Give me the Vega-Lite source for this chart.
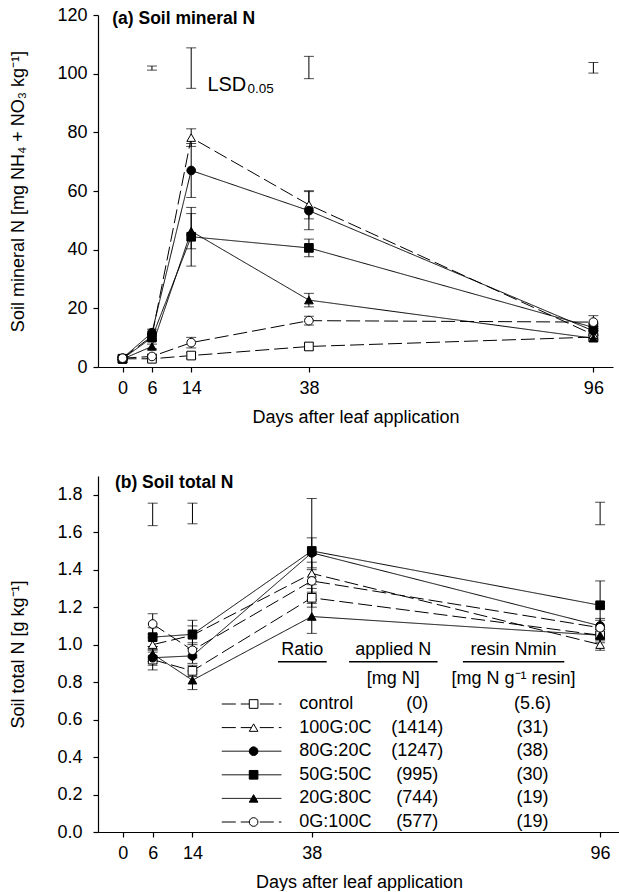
{
  "$schema": "https://vega.github.io/schema/vega-lite/v6.json",
  "padding": {"left": 9, "top": 6, "right": 0, "bottom": 0},
  "spacing": 47,
  "config": {
    "font": "Liberation Sans",
    "view": {"stroke": null},
    "axis": {
      "domainColor": "black", "tickColor": "black", "labelColor": "black", "titleColor": "black",
      "labelFont": "Liberation Sans", "titleFont": "Liberation Sans",
      "labelFontSize": 18, "titleFontSize": 18, "titleFontWeight": "normal",
      "tickSize": 5, "grid": false, "domainWidth": 1.2, "tickWidth": 1.2, "labelOverlap": false
    }
  },
  "datasets": {
    "main": [
      {"panel": "a", "treatment": "control", "day": 0, "value": 2.8, "se": 0.4},
      {"panel": "a", "treatment": "control", "day": 6, "value": 2.8, "se": 0.5},
      {"panel": "a", "treatment": "control", "day": 14, "value": 3.9, "se": 1.0},
      {"panel": "a", "treatment": "control", "day": 38, "value": 7.0, "se": 1.2},
      {"panel": "a", "treatment": "control", "day": 96, "value": 10.2, "se": 1.0},
      {"panel": "a", "treatment": "100G:0C", "day": 0, "value": 3.0, "se": 0.4},
      {"panel": "a", "treatment": "100G:0C", "day": 6, "value": 10.5, "se": 1.0},
      {"panel": "a", "treatment": "100G:0C", "day": 14, "value": 78.2, "se": 3.0},
      {"panel": "a", "treatment": "100G:0C", "day": 38, "value": 55.3, "se": 4.8},
      {"panel": "a", "treatment": "100G:0C", "day": 96, "value": 11.0, "se": 1.5},
      {"panel": "a", "treatment": "80G:20C", "day": 0, "value": 3.0, "se": 0.4},
      {"panel": "a", "treatment": "80G:20C", "day": 6, "value": 11.7, "se": 1.2},
      {"panel": "a", "treatment": "80G:20C", "day": 14, "value": 67.0, "se": 9.2},
      {"panel": "a", "treatment": "80G:20C", "day": 38, "value": 53.3, "se": 6.5},
      {"panel": "a", "treatment": "80G:20C", "day": 96, "value": 12.3, "se": 1.5},
      {"panel": "a", "treatment": "50G:50C", "day": 0, "value": 2.8, "se": 0.4},
      {"panel": "a", "treatment": "50G:50C", "day": 6, "value": 10.0, "se": 1.0},
      {"panel": "a", "treatment": "50G:50C", "day": 14, "value": 44.4, "se": 10.0},
      {"panel": "a", "treatment": "50G:50C", "day": 38, "value": 40.6, "se": 3.0},
      {"panel": "a", "treatment": "50G:50C", "day": 96, "value": 13.5, "se": 1.5},
      {"panel": "a", "treatment": "20G:80C", "day": 0, "value": 2.7, "se": 0.4},
      {"panel": "a", "treatment": "20G:80C", "day": 6, "value": 7.0, "se": 0.8},
      {"panel": "a", "treatment": "20G:80C", "day": 14, "value": 46.3, "se": 6.0},
      {"panel": "a", "treatment": "20G:80C", "day": 38, "value": 22.8, "se": 2.3},
      {"panel": "a", "treatment": "20G:80C", "day": 96, "value": 9.8, "se": 1.0},
      {"panel": "a", "treatment": "0G:100C", "day": 0, "value": 3.0, "se": 0.4},
      {"panel": "a", "treatment": "0G:100C", "day": 6, "value": 3.6, "se": 0.8},
      {"panel": "a", "treatment": "0G:100C", "day": 14, "value": 8.3, "se": 1.8},
      {"panel": "a", "treatment": "0G:100C", "day": 38, "value": 15.8, "se": 1.5},
      {"panel": "a", "treatment": "0G:100C", "day": 96, "value": 15.3, "se": 2.2},
      {"panel": "b", "treatment": "control", "day": 6, "value": 0.92, "se": 0.055},
      {"panel": "b", "treatment": "control", "day": 14, "value": 0.86, "se": 0.03},
      {"panel": "b", "treatment": "control", "day": 38, "value": 1.25, "se": 0.05},
      {"panel": "b", "treatment": "control", "day": 96, "value": 1.05, "se": 0.03},
      {"panel": "b", "treatment": "100G:0C", "day": 6, "value": 1.00, "se": 0.04},
      {"panel": "b", "treatment": "100G:0C", "day": 14, "value": 1.05, "se": 0.05},
      {"panel": "b", "treatment": "100G:0C", "day": 38, "value": 1.38, "se": 0.06},
      {"panel": "b", "treatment": "100G:0C", "day": 96, "value": 1.00, "se": 0.03},
      {"panel": "b", "treatment": "80G:20C", "day": 6, "value": 0.93, "se": 0.04},
      {"panel": "b", "treatment": "80G:20C", "day": 14, "value": 0.94, "se": 0.04},
      {"panel": "b", "treatment": "80G:20C", "day": 38, "value": 1.49, "se": 0.08},
      {"panel": "b", "treatment": "80G:20C", "day": 96, "value": 1.10, "se": 0.04},
      {"panel": "b", "treatment": "50G:50C", "day": 6, "value": 1.04, "se": 0.05},
      {"panel": "b", "treatment": "50G:50C", "day": 14, "value": 1.055, "se": 0.075},
      {"panel": "b", "treatment": "50G:50C", "day": 38, "value": 1.50, "se": 0.28},
      {"panel": "b", "treatment": "50G:50C", "day": 96, "value": 1.21, "se": 0.13},
      {"panel": "b", "treatment": "20G:80C", "day": 6, "value": 0.95, "se": 0.04},
      {"panel": "b", "treatment": "20G:80C", "day": 14, "value": 0.81, "se": 0.05},
      {"panel": "b", "treatment": "20G:80C", "day": 38, "value": 1.15, "se": 0.09},
      {"panel": "b", "treatment": "20G:80C", "day": 96, "value": 1.05, "se": 0.04},
      {"panel": "b", "treatment": "0G:100C", "day": 6, "value": 1.11, "se": 0.055},
      {"panel": "b", "treatment": "0G:100C", "day": 14, "value": 0.97, "se": 0.04},
      {"panel": "b", "treatment": "0G:100C", "day": 38, "value": 1.34, "se": 0.06},
      {"panel": "b", "treatment": "0G:100C", "day": 96, "value": 1.09, "se": 0.04}
    ],
    "lsd": [
      {"panel": "a", "day": 6, "value": 101.9, "se": 0.7},
      {"panel": "a", "day": 14, "value": 101.9, "se": 6.9},
      {"panel": "a", "day": 38, "value": 102.1, "se": 3.8},
      {"panel": "a", "day": 96, "value": 102.0, "se": 1.8},
      {"panel": "b", "day": 6, "value": 1.695, "se": 0.06},
      {"panel": "b", "day": 14, "value": 1.70, "se": 0.055},
      {"panel": "b", "day": 96, "value": 1.70, "se": 0.06}
    ],
    "legend": [
      {"treatment": "control", "applied": "(0)", "resin": "(5.6)"},
      {"treatment": "100G:0C", "applied": "(1414)", "resin": "(31)"},
      {"treatment": "80G:20C", "applied": "(1247)", "resin": "(38)"},
      {"treatment": "50G:50C", "applied": "(995)", "resin": "(30)"},
      {"treatment": "20G:80C", "applied": "(744)", "resin": "(19)"},
      {"treatment": "0G:100C", "applied": "(577)", "resin": "(19)"}
    ]
  },
  "vconcat": [
    {
      "width": 515,
      "height": 352,
      "layer": [
        {
          "data": {"name": "main"},
          "transform": [{"filter": "datum.panel === 'a'"}],
          "mark": {"type": "line", "color": "black", "strokeWidth": 1},
          "encoding": {
            "x": {"field": "day", "type": "quantitative", "scale": {"domain": [-5, 100], "nice": false, "zero": false},
                  "axis": {"values": [0, 6, 14, 38, 96], "title": "Days after leaf application", "labelPadding": 7, "titlePadding": 11}},
            "y": {"field": "value", "type": "quantitative", "scale": {"domain": [0, 120], "nice": false}, "title": "Soil mineral N [mg NH₄ + NO₃ kg⁻¹]",
                  "axis": {"values": [0, 20, 40, 60, 80, 100, 120], "title": "Soil mineral N [mg NH₄ + NO₃ kg⁻¹]", "labelPadding": 6, "titlePadding": 29}},
            "strokeDash": {"field": "treatment", "type": "nominal", "legend": null,
                  "scale": {"domain": ["control", "100G:0C", "80G:20C", "50G:50C", "20G:80C", "0G:100C"],
                            "range": [[14, 5], [14, 5], [1, 0], [1, 0], [1, 0], [14, 5]]}}
          }
        },
        {
          "data": {"name": "main"},
          "transform": [{"filter": "datum.panel === 'a'"}],
          "mark": {"type": "errorbar", "ticks": true, "size": 10, "thickness": 1, "color": "black"},
          "encoding": {
            "x": {"field": "day", "type": "quantitative", "title": "Days after leaf application"},
            "y": {"field": "value", "type": "quantitative", "title": "Soil mineral N [mg NH₄ + NO₃ kg⁻¹]"},
            "yError": {"field": "se"}
          }
        },
        {
          "data": {"name": "main"},
          "transform": [{"filter": "datum.panel === 'a'"}],
          "mark": {"type": "point", "filled": true, "opacity": 1, "stroke": "black", "strokeWidth": 1, "size": 75},
          "encoding": {
            "x": {"field": "day", "type": "quantitative", "title": "Days after leaf application"},
            "y": {"field": "value", "type": "quantitative", "title": "Soil mineral N [mg NH₄ + NO₃ kg⁻¹]"},
            "shape": {"field": "treatment", "type": "nominal", "legend": null,
                  "scale": {"domain": ["control", "100G:0C", "80G:20C", "50G:50C", "20G:80C", "0G:100C"],
                            "range": ["square", "triangle-up", "circle", "square", "triangle-up", "circle"]}},
            "fill": {"field": "treatment", "type": "nominal", "legend": null,
                  "scale": {"domain": ["control", "100G:0C", "80G:20C", "50G:50C", "20G:80C", "0G:100C"],
                            "range": ["white", "white", "black", "black", "black", "white"]}}
          }
        },
        {
          "data": {"name": "lsd"},
          "transform": [{"filter": "datum.panel === 'a'"}],
          "mark": {"type": "errorbar", "ticks": true, "size": 10, "thickness": 1, "color": "black"},
          "encoding": {
            "x": {"field": "day", "type": "quantitative", "title": "Days after leaf application"},
            "y": {"field": "value", "type": "quantitative", "title": "Soil mineral N [mg NH₄ + NO₃ kg⁻¹]"},
            "yError": {"field": "se"}
          }
        },
        {
          "data": {"values": [{"label": "(a) Soil mineral N"}]},
          "mark": {"type": "text", "align": "left", "baseline": "alphabetic", "fontSize": 17.5, "fontWeight": "bold", "color": "black"},
          "encoding": {"x": {"datum": -2.1}, "y": {"datum": 116.9}, "text": {"field": "label"}}
        },
        {
          "data": {"values": [{"label": "LSD"}]},
          "mark": {"type": "text", "align": "left", "baseline": "alphabetic", "fontSize": 20, "color": "black"},
          "encoding": {"x": {"datum": 17.3}, "y": {"datum": 94.1}, "text": {"field": "label"}}
        },
        {
          "data": {"values": [{"label": "0.05"}]},
          "mark": {"type": "text", "align": "left", "baseline": "alphabetic", "fontSize": 13.5, "dx": 40, "dy": 2.5, "color": "black"},
          "encoding": {"x": {"datum": 17.3}, "y": {"datum": 94.1}, "text": {"field": "label"}}
        }
      ]
    },
    {
      "width": 522,
      "height": 356,
      "resolve": {"scale": {"y": "independent"}},
      "layer": [
        {
          "layer": [
            {
              "data": {"name": "main"},
              "transform": [{"filter": "datum.panel === 'b'"}],
              "mark": {"type": "line", "color": "black", "strokeWidth": 1},
              "encoding": {
                "x": {"field": "day", "type": "quantitative", "scale": {"domain": [-5, 100], "nice": false, "zero": false},
                      "axis": {"values": [0, 6, 14, 38, 96], "title": "Days after leaf application", "labelPadding": 7, "titlePadding": 11}},
                "y": {"field": "value", "type": "quantitative", "scale": {"domain": [0, 1.9], "nice": false}, "title": "Soil total N [g kg⁻¹]",
                      "axis": {"values": [0, 0.2, 0.4, 0.6, 0.8, 1.0, 1.2, 1.4, 1.6, 1.8], "tickCount": 10, "format": ".1f", "labelOverlap": false, "title": "Soil total N [g kg⁻¹]", "labelPadding": 11, "titlePadding": 29}},
                "strokeDash": {"field": "treatment", "type": "nominal", "legend": null,
                      "scale": {"domain": ["control", "100G:0C", "80G:20C", "50G:50C", "20G:80C", "0G:100C"],
                                "range": [[14, 5], [14, 5], [1, 0], [1, 0], [1, 0], [14, 5]]}}
              }
            },
            {
              "data": {"name": "main"},
              "transform": [{"filter": "datum.panel === 'b'"}],
              "mark": {"type": "errorbar", "ticks": true, "size": 10, "thickness": 1, "color": "black"},
              "encoding": {
                "x": {"field": "day", "type": "quantitative", "title": "Days after leaf application"},
                "y": {"field": "value", "type": "quantitative", "title": "Soil total N [g kg⁻¹]",
                      "axis": {"values": [0, 0.2, 0.4, 0.6, 0.8, 1.0, 1.2, 1.4, 1.6, 1.8], "tickCount": 10, "format": ".1f", "labelOverlap": false, "title": "Soil total N [g kg⁻¹]", "labelPadding": 11, "titlePadding": 29}},
                "yError": {"field": "se"}
              }
            },
            {
              "data": {"name": "main"},
              "transform": [{"filter": "datum.panel === 'b'"}],
              "mark": {"type": "point", "filled": true, "opacity": 1, "stroke": "black", "strokeWidth": 1, "size": 75},
              "encoding": {
                "x": {"field": "day", "type": "quantitative", "title": "Days after leaf application"},
                "y": {"field": "value", "type": "quantitative", "title": "Soil total N [g kg⁻¹]",
                      "axis": {"values": [0, 0.2, 0.4, 0.6, 0.8, 1.0, 1.2, 1.4, 1.6, 1.8], "tickCount": 10, "format": ".1f", "labelOverlap": false, "title": "Soil total N [g kg⁻¹]", "labelPadding": 11, "titlePadding": 29}},
                "shape": {"field": "treatment", "type": "nominal", "legend": null,
                      "scale": {"domain": ["control", "100G:0C", "80G:20C", "50G:50C", "20G:80C", "0G:100C"],
                                "range": ["square", "triangle-up", "circle", "square", "triangle-up", "circle"]}},
                "fill": {"field": "treatment", "type": "nominal", "legend": null,
                      "scale": {"domain": ["control", "100G:0C", "80G:20C", "50G:50C", "20G:80C", "0G:100C"],
                                "range": ["white", "white", "black", "black", "black", "white"]}}
              }
            },
            {
              "data": {"name": "lsd"},
              "transform": [{"filter": "datum.panel === 'b'"}],
              "mark": {"type": "errorbar", "ticks": true, "size": 10, "thickness": 1, "color": "black"},
              "encoding": {
                "x": {"field": "day", "type": "quantitative", "title": "Days after leaf application"},
                "y": {"field": "value", "type": "quantitative", "title": "Soil total N [g kg⁻¹]",
                      "axis": {"values": [0, 0.2, 0.4, 0.6, 0.8, 1.0, 1.2, 1.4, 1.6, 1.8], "tickCount": 10, "format": ".1f", "labelOverlap": false, "title": "Soil total N [g kg⁻¹]", "labelPadding": 11, "titlePadding": 29}},
                "yError": {"field": "se"}
              }
            },
            {
              "data": {"values": [{"label": "(b) Soil total N"}]},
              "mark": {"type": "text", "align": "left", "baseline": "alphabetic", "fontSize": 17.5, "fontWeight": "bold", "color": "black"},
              "encoding": {"x": {"datum": -1.6}, "y": {"datum": 1.836}, "text": {"field": "label"}}
            },
            {
              "data": {"values": [{"label": "Ratio"}]},
              "mark": {"type": "text", "align": "center", "baseline": "middle", "fontSize": 18, "color": "black"},
              "encoding": {"x": {"datum": 36.1}, "y": {"datum": 0.970}, "text": {"field": "label"}}
            },
            {
              "data": {"values": [{"label": "applied N"}]},
              "mark": {"type": "text", "align": "center", "baseline": "middle", "fontSize": 18, "color": "black"},
              "encoding": {"x": {"datum": 54.4}, "y": {"datum": 0.970}, "text": {"field": "label"}}
            },
            {
              "data": {"values": [{"label": "resin Nmin"}]},
              "mark": {"type": "text", "align": "center", "baseline": "middle", "fontSize": 18, "color": "black"},
              "encoding": {"x": {"datum": 78.6}, "y": {"datum": 0.970}, "text": {"field": "label"}}
            },
            {
              "data": {"values": [{"label": "[mg N]"}]},
              "mark": {"type": "text", "align": "center", "baseline": "middle", "fontSize": 18, "color": "black"},
              "encoding": {"x": {"datum": 54.4}, "y": {"datum": 0.815}, "text": {"field": "label"}}
            },
            {
              "data": {"values": [{"label": "[mg N g⁻¹ resin]"}]},
              "mark": {"type": "text", "align": "center", "baseline": "middle", "fontSize": 18, "color": "black"},
              "encoding": {"x": {"datum": 78.6}, "y": {"datum": 0.815}, "text": {"field": "label"}}
            },
            {
              "data": {"values": [{}]},
              "mark": {"type": "rule", "strokeWidth": 1.6, "color": "black"},
              "encoding": {"x": {"datum": 31.2}, "x2": {"datum": 41.0}, "y": {"datum": 0.909}}
            },
            {
              "data": {"values": [{}]},
              "mark": {"type": "rule", "strokeWidth": 1.6, "color": "black"},
              "encoding": {"x": {"datum": 45.5}, "x2": {"datum": 63.3}, "y": {"datum": 0.909}}
            },
            {
              "data": {"values": [{}]},
              "mark": {"type": "rule", "strokeWidth": 1.6, "color": "black"},
              "encoding": {"x": {"datum": 68.4}, "x2": {"datum": 88.8}, "y": {"datum": 0.909}}
            }
          ]
        },
        {
          "data": {"name": "legend"},
          "layer": [
            {
              "mark": {"type": "rule", "strokeWidth": 1, "color": "black"},
              "encoding": {
                "x": {"datum": 19.9}, "x2": {"datum": 31.9},
                "y": {"field": "treatment", "type": "nominal", "axis": null,
                      "scale": {"type": "point", "domain": ["control", "100G:0C", "80G:20C", "50G:50C", "20G:80C", "0G:100C"], "range": [228, 346], "padding": 0}},
                "strokeDash": {"field": "treatment", "type": "nominal", "legend": null}
              }
            },
            {
              "mark": {"type": "point", "filled": true, "opacity": 1, "stroke": "black", "strokeWidth": 1, "size": 75},
              "encoding": {
                "x": {"datum": 26.3},
                "y": {"field": "treatment", "type": "nominal", "axis": null},
                "shape": {"field": "treatment", "type": "nominal", "legend": null},
                "fill": {"field": "treatment", "type": "nominal", "legend": null}
              }
            },
            {
              "mark": {"type": "text", "align": "left", "baseline": "middle", "fontSize": 18, "color": "black"},
              "encoding": {
                "x": {"datum": 35.5},
                "y": {"field": "treatment", "type": "nominal", "axis": null},
                "text": {"field": "treatment"}
              }
            },
            {
              "mark": {"type": "text", "align": "center", "baseline": "middle", "fontSize": 18, "color": "black"},
              "encoding": {
                "x": {"datum": 59.2},
                "y": {"field": "treatment", "type": "nominal", "axis": null},
                "text": {"field": "applied"}
              }
            },
            {
              "mark": {"type": "text", "align": "center", "baseline": "middle", "fontSize": 18, "color": "black"},
              "encoding": {
                "x": {"datum": 82.4},
                "y": {"field": "treatment", "type": "nominal", "axis": null},
                "text": {"field": "resin"}
              }
            }
          ]
        }
      ]
    }
  ]
}
